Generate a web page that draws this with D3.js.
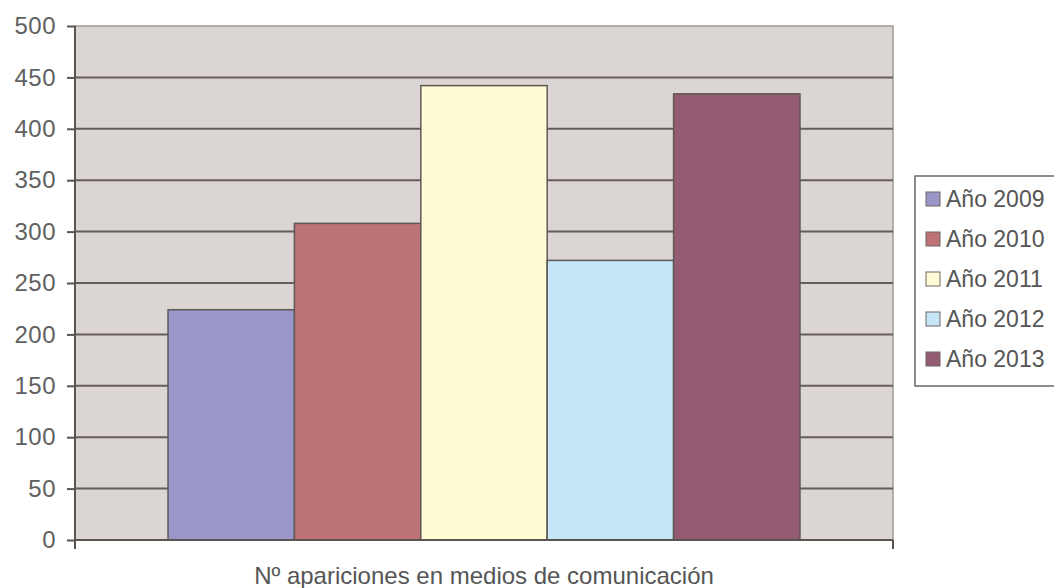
<!DOCTYPE html>
<html>
<head>
<meta charset="utf-8">
<script src="https://cdn.jsdelivr.net/npm/d3@7"></script>
<style>
  html, body { margin: 0; padding: 0; background: #ffffff; }
  svg { display: block; }
  text { font-family: "Liberation Sans", Arial, sans-serif; }
</style>
</head>
<body>
<svg id="chart" width="1054" height="588"></svg>
<script>
// ---- data ----
const category = "Nº apariciones en medios de comunicación";
const seriesNames = ["Año 2009", "Año 2010", "Año 2011", "Año 2012", "Año 2013"];
const seriesValues = [224, 308, 442, 272, 434];
const seriesColors = ["#9a96c8", "#bd7276", "#fffbd5", "#c5e6f6", "#935c72"];
const yTicks = [0, 50, 100, 150, 200, 250, 300, 350, 400, 450, 500];

const svg = d3.select("#chart");
const plot = { left: 75, right: 893, top: 26, bottom: 540 };

const y = d3.scaleLinear().domain([0, 500]).range([plot.bottom, plot.top]);
const x = d3.scaleBand().domain(seriesNames)
  .range([plot.left, plot.right]).paddingInner(0).paddingOuter(0.736);

// plot background
svg.append("rect")
  .attr("x", plot.left).attr("y", plot.top)
  .attr("width", plot.right - plot.left).attr("height", plot.bottom - plot.top)
  .attr("fill", "#dbd5d3").attr("stroke", "#9f9997").attr("stroke-width", 1.5);

// gridlines
svg.append("g").selectAll("line")
  .data(yTicks.filter(t => t > 0 && t < 500))
  .join("line")
  .attr("x1", plot.left).attr("x2", plot.right)
  .attr("y1", d => y(d)).attr("y2", d => y(d))
  .attr("stroke", "#645d5c").attr("stroke-width", 2);

// bars
svg.append("g").selectAll("rect")
  .data(seriesNames.map((s, i) => ({ s, v: seriesValues[i], c: seriesColors[i] })))
  .join("rect")
  .attr("x", d => x(d.s)).attr("width", x.bandwidth())
  .attr("y", d => y(d.v)).attr("height", d => y(0) - y(d.v))
  .attr("fill", d => d.c)
  .attr("stroke", "#5e5857").attr("stroke-width", 1.5);

// y axis
const yAxis = d3.axisLeft(y).tickValues(yTicks).tickSize(8).tickPadding(11);
const gy = svg.append("g").attr("transform", `translate(${plot.left},0)`).call(yAxis);
gy.select(".domain").attr("stroke", "#5a5453").attr("stroke-width", 2)
  .attr("d", `M0,${plot.top}V${plot.bottom + 9}`);
gy.selectAll(".tick line").attr("stroke", "#5a5453").attr("stroke-width", 2);
gy.selectAll(".tick text").attr("fill", "#606060").style("font-size", "24px")
  .style("letter-spacing", "0.5px")
  .style("font-family", '"Liberation Sans", Arial, sans-serif');

// x axis baseline
svg.append("line")
  .attr("x1", plot.left).attr("x2", plot.right)
  .attr("y1", y(0)).attr("y2", y(0))
  .attr("stroke", "#5a5453").attr("stroke-width", 2);
svg.append("line")
  .attr("x1", plot.right).attr("x2", plot.right)
  .attr("y1", y(0)).attr("y2", y(0) + 9)
  .attr("stroke", "#5a5453").attr("stroke-width", 2);

// x title
svg.append("text")
  .attr("x", (plot.left + plot.right) / 2).attr("y", 584)
  .attr("text-anchor", "middle")
  .attr("fill", "#555555").style("font-size", "24px")
  .text(category);

// legend
const legend = svg.append("g");
legend.append("rect")
  .attr("x", 915).attr("y", 176).attr("width", 160).attr("height", 210)
  .attr("fill", "#ffffff").attr("stroke", "#6d6665").attr("stroke-width", 1.5);
const items = legend.selectAll("g.item")
  .data(seriesNames.map((s, i) => ({ s, c: seriesColors[i], i })))
  .join("g").attr("class", "item")
  .attr("transform", d => `translate(0,${199 + d.i * 40})`);
items.append("rect")
  .attr("x", 926).attr("y", -7).attr("width", 14).attr("height", 14)
  .attr("fill", d => d.c).attr("stroke", "#6d6665").attr("stroke-width", 1);
items.append("text")
  .attr("x", 946).attr("y", 0).attr("dy", "0.35em")
  .attr("fill", "#555555").style("font-size", "23px")
  .text(d => d.s);
</script>
</body>
</html>
